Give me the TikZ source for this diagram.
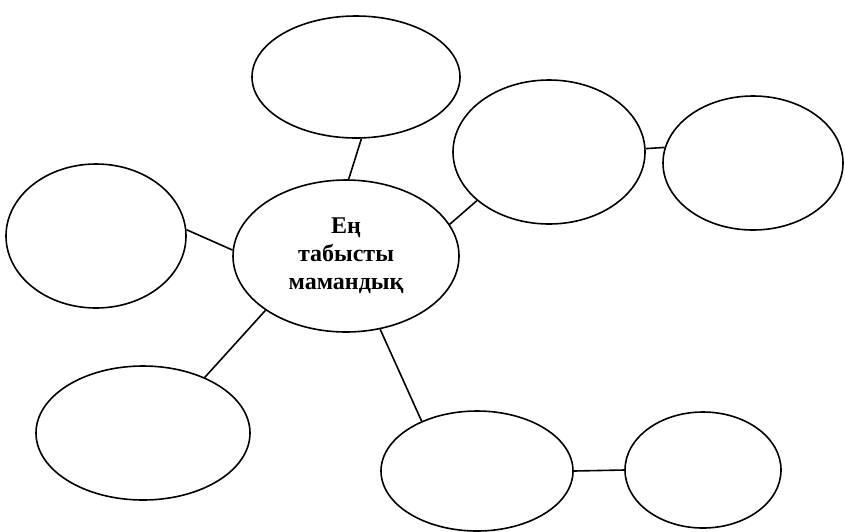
\documentclass[tikz,border=0pt]{standalone}
\usepackage{fontspec}
\setmainfont{Liberation Serif}
\usetikzlibrary{shapes.geometric}

\begin{document}
\begin{tikzpicture}[x=1pt, y=-1pt, line width=1.6pt,
  bubble/.style={draw, ellipse, inner sep=0pt}]
\useasboundingbox (0,0) rectangle (845,531);
% Centre
\node[bubble, minimum width=226, minimum height=152, align=center,
  font=\bfseries\fontsize{24}{28}\selectfont] (hub) at (346,256) {Ең\\табысты\\мамандық};
% Empty bubbles
\foreach \name/\x/\y/\w/\h in {up/356/77/208/122, side/96/236/180/144,
  mid/549/152/192/144, far/753/163/180/134, low/143/433/214/134,
  base/477/471/192/120, tail/703/470/156/116} {
  \node[bubble, minimum width=\w, minimum height=\h] (\name) at (\x,\y) {};
}
% Links
\foreach \a/\b in {up.275/hub.88, side.4/hub.177, mid.214/hub.17, mid.2/far.170,
  low.42/hub.214, base.138/hub.295, base.0/tail.180} {
  \draw (\a) -- (\b);
}
\end{tikzpicture}
\end{document}
